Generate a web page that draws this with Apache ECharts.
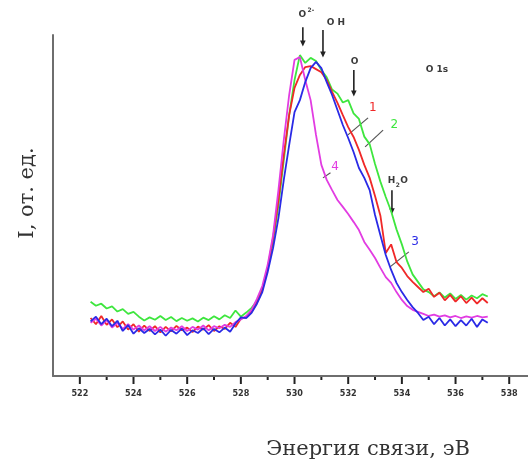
<!DOCTYPE html>
<html>
<head>
<meta charset="utf-8">
<script src="https://cdn.jsdelivr.net/npm/echarts@6/dist/echarts.min.js"></script>
<style>
  html, body { margin: 0; padding: 0; background: #fff; }
  #chart { width: 528px; height: 470px; }
</style>
</head>
<body>
<div id="chart"></div>
<script>
// Binding energy grid, eV
const energies = [522.4,522.6,522.8,523.0,523.2,523.4,523.6,523.8,524.0,524.2,524.4,524.6,524.8,525.0,525.2,525.4,525.6,525.8,526.0,526.2,526.4,526.6,526.8,527.0,527.2,527.4,527.6,527.8,528.0,528.2,528.4,528.6,528.8,529.0,529.2,529.4,529.6,529.8,530.0,530.2,530.4,530.6,530.8,531.0,531.2,531.4,531.6,531.8,532.0,532.2,532.4,532.6,532.8,533.0,533.2,533.4,533.6,533.8,534.0,534.2,534.4,534.6,534.8,535.0,535.2,535.4,535.6,535.8,536.0,536.2,536.4,536.6,536.8,537.0,537.2];

// O 1s spectra, intensity in arbitrary units
const curve1 = [17.0,15.2,17.6,15.0,16.6,14.3,16.0,13.6,15.2,13.0,14.8,13.2,14.6,12.8,14.4,13.1,14.7,13.4,14.2,12.9,14.5,13.6,14.9,13.2,14.6,13.8,15.6,14.4,16.8,17.3,18.8,21.6,25.2,31.7,40.5,51.6,64.8,76.5,84.5,88.3,90.6,90.9,90.0,89.1,86.8,83.3,80.1,76.5,73.0,70.1,66.3,61.9,58.1,52.8,47.0,36.1,38.6,33.4,31.7,29.3,27.6,26.1,24.6,25.6,23.2,24.4,22.2,23.8,21.8,23.4,21.4,23.0,21.2,22.8,21.4];
const curve2 = [21.8,20.6,21.2,19.8,20.4,18.9,19.6,18.2,18.8,17.4,16.3,17.2,16.5,17.6,16.4,17.3,16.1,17.0,16.2,16.9,16.0,17.1,16.4,17.5,16.6,17.8,17.0,19.2,17.4,18.6,20.0,22.0,25.6,31.7,39.3,50.1,63.3,76.5,86.8,94.1,91.8,93.3,92.4,89.7,87.6,84.0,82.8,80.2,80.9,77.0,75.4,70.2,68.0,62.2,57.0,52.5,48.3,43.0,38.6,33.6,29.8,27.6,25.4,24.6,23.4,24.5,23.0,24.2,22.6,23.8,22.4,23.6,22.8,24.0,23.3];
const curve3 = [16.0,17.4,15.2,16.8,14.6,16.2,13.2,14.9,12.4,14.0,12.6,13.8,12.2,13.6,11.8,13.5,12.4,13.9,12.0,13.4,12.6,14.0,12.3,13.8,12.8,14.2,13.0,15.4,17.2,17.0,18.5,21.2,24.6,30.5,37.5,46.3,57.5,67.7,77.4,80.9,86.2,90.3,92.1,90.3,86.2,82.4,78.0,73.6,69.8,65.7,61.0,58.1,54.5,47.2,41.3,35.5,31.1,27.3,24.6,22.3,20.2,18.5,16.4,17.4,15.2,17.0,14.8,16.6,14.6,16.4,14.8,16.8,14.4,16.6,15.6];
const curve4 = [15.6,16.8,14.8,16.4,14.2,15.6,13.8,15.2,13.6,14.8,13.4,14.6,13.2,14.4,13.0,14.2,13.4,14.6,13.2,14.4,13.6,14.8,13.4,14.6,14.0,15.0,14.4,15.8,16.6,17.6,19.4,22.6,26.4,32.6,41.3,54.5,69.2,82.4,92.7,93.5,86.8,80.9,70.7,61.9,57.5,54.5,51.6,49.6,47.5,45.2,42.8,39.3,37.0,34.6,31.7,29.0,27.3,24.6,22.3,20.5,19.4,18.8,18.2,17.6,18.0,17.4,17.8,17.2,17.6,17.0,17.5,17.1,17.6,17.2,17.4];

const curveNames = ['1', '2', '3', '4'];

// Axis ticks, eV
const majorTicks = [522,524,526,528,530,532,534,536,538];
const minorTicks = [523,525,527,529,531,533,535,537];

// Texts
const xTitle = 'Энергия связи, эВ';
const yTitle = 'I, от. ед.';
const bandTitle = 'O 1s';

// Component peak positions, eV
const peakEnergies = [530.31, 531.06, 532.21, 533.63];

const colors = ['#f02828', '#3ee63e', '#2a2ae6', '#e23ce2'];

const chart = echarts.init(document.getElementById('chart'), null, { renderer: 'canvas' });

function pairs(vals) { return energies.map((e, i) => [e, vals[i]]); }

const curves = [curve1, curve2, curve3, curve4];
// draw order: green, red, magenta, blue
const order = [1, 0, 3, 2];

// each tick label carries its own tick mark as a small filled box above the number
const tickBox = len => ({ width: 2, height: len, backgroundColor: '#222' });
const numStyle = { fontSize: 9, fontWeight: 'bold', fontFamily: 'DejaVu Sans Condensed, DejaVu Sans',
                   color: '#333', padding: [5, 0, 0, 0] };

const option = {
  animation: false,
  backgroundColor: '#ffffff',
  grid: { left: 53, right: 0, top: 35, bottom: 94 },
  xAxis: [{
    type: 'value', min: 521, max: 538.7,
    axisLine: { show: true, lineStyle: { color: '#6e6e6e', width: 2 } },
    axisTick: { show: false },
    axisLabel: { show: true, customValues: majorTicks, margin: 1, align: 'center',
                 formatter: v => '{t|}\n{n|' + v + '}',
                 rich: { t: tickBox(7), n: numStyle } },
    splitLine: { show: false }
  }, {
    type: 'value', min: 521, max: 538.7, position: 'bottom',
    axisLine: { show: false },
    axisTick: { show: false },
    axisLabel: { show: true, customValues: minorTicks, margin: 1, align: 'center',
                 formatter: () => '{t|}',
                 rich: { t: tickBox(3) } },
    splitLine: { show: false }
  }],
  yAxis: {
    type: 'value', min: 0, max: 100,
    axisLine: { show: true, lineStyle: { color: '#6e6e6e', width: 2 } },
    axisTick: { show: false }, axisLabel: { show: false }, splitLine: { show: false }
  },
  series: order.map(k => ({
    type: 'line', name: curveNames[k], xAxisIndex: 0, data: pairs(curves[k]),
    showSymbol: false, symbol: 'none',
    lineStyle: { color: colors[k], width: 1.8 },
    z: 2
  }))
};
chart.setOption(option);

const P = (x, y) => chart.convertToPixel({ xAxisIndex: 0, yAxisIndex: 0 }, [x, y]);

const g = [];
const annoFont = { fontFamily: 'DejaVu Sans', fontSize: 9, fontWeight: 'bold', fill: '#3a3a3a' };

function arrow(xe, yTop, yBot) {
  const a = P(xe, yTop), b = P(xe, yBot);
  g.push({ type: 'line', shape: { x1: a[0], y1: a[1], x2: b[0], y2: b[1] - 5 }, style: { stroke: '#222', lineWidth: 1.6 } });
  g.push({ type: 'polygon', shape: { points: [[b[0] - 2.8, b[1] - 6], [b[0] + 2.8, b[1] - 6], [b[0], b[1]]] }, style: { fill: '#222' } });
}
function txt(xe, ye, s, extra) {
  const p = P(xe, ye);
  g.push({ type: 'text', x: p[0], y: p[1], style: Object.assign({ text: s, align: 'center', verticalAlign: 'middle' }, annoFont, extra || {}) });
}

// O2- component
arrow(peakEnergies[0], 102.3, 96.6);
txt(peakEnergies[0] - 0.02, 105.9, 'O');
txt(peakEnergies[0] + 0.30, 107.3, '2-', { fontSize: 6 });
// OH component
arrow(peakEnergies[1], 101.5, 93.4);
txt(peakEnergies[1] + 0.48, 103.6, 'O H');
// O component
arrow(peakEnergies[2], 89.7, 82.0);
txt(peakEnergies[2] + 0.03, 92.3, 'O');
// H2O component
arrow(peakEnergies[3], 54.5, 47.4);
txt(peakEnergies[3] - 0.02, 57.2, 'H');
txt(peakEnergies[3] + 0.22, 56.0, '2', { fontSize: 6 });
txt(peakEnergies[3] + 0.45, 57.2, 'O');
// band label
txt(535.31, 89.7, bandTitle);

// curve number labels with leaders
const leaders = [
  { k: 0, label: [532.92, 78.6], from: [532.74, 75.7], to: [531.99, 70.7] },
  { k: 1, label: [533.72, 73.6], from: [533.30, 72.1], to: [532.63, 67.2] },
  { k: 2, label: [534.49, 39.3], from: [534.26, 36.4], to: [533.56, 32.0] },
  { k: 3, label: [531.51, 61.3], from: [531.34, 59.6], to: [531.06, 58.1] }
];
leaders.forEach(d => {
  const a = P(d.from[0], d.from[1]), b = P(d.to[0], d.to[1]);
  g.push({ type: 'line', shape: { x1: a[0], y1: a[1], x2: b[0], y2: b[1] }, style: { stroke: '#555', lineWidth: 1.2 } });
  txt(d.label[0], d.label[1], curveNames[d.k], { fontSize: 12, fontWeight: 'normal', fill: colors[d.k], fontFamily: 'DejaVu Sans' });
});

// axis titles
g.push({ type: 'text', x: 368, y: 450, style: { text: xTitle, align: 'center', verticalAlign: 'middle',
  fontFamily: 'DejaVu Serif', fontSize: 21, fill: '#333' } });
g.push({ type: 'text', x: 28, y: 193, rotation: Math.PI / 2, style: { text: yTitle, align: 'center', verticalAlign: 'middle',
  fontFamily: 'DejaVu Serif', fontSize: 21, fill: '#333' } });

chart.setOption({ graphic: { elements: g } });
</script>
</body>
</html>
